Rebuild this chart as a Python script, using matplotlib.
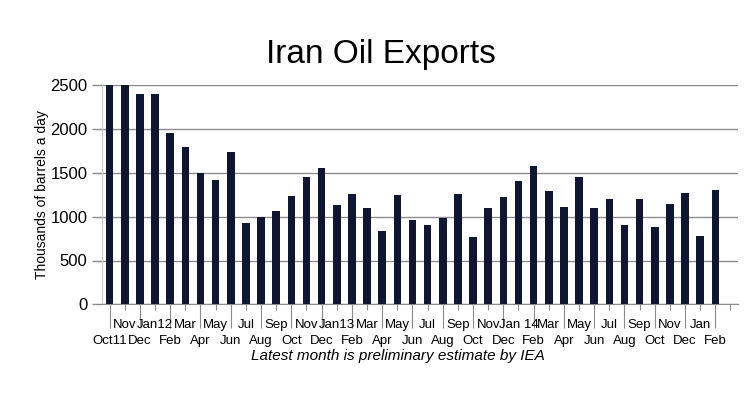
import matplotlib
matplotlib.use("Agg")
import matplotlib.pyplot as plt
import numpy as np

plt.rcParams['font.family'] = ['Liberation Sans', 'DejaVu Sans']

months = ["Oct11", "Nov", "Dec", "Jan12", "Feb", "Mar", "Apr", "May", "Jun", "Jul", "Aug", "Sep",
          "Oct", "Nov", "Dec", "Jan13", "Feb", "Mar", "Apr", "May", "Jun", "Jul", "Aug", "Sep",
          "Oct", "Nov", "Dec", "Jan 14", "Feb", "Mar", "Apr", "May", "Jun", "Jul", "Aug", "Sep",
          "Oct", "Nov", "Dec", "Jan", "Feb"]
exports = [2500, 2500, 2400, 2400, 1950, 1800, 1500, 1420, 1740, 930, 1000, 1070,
           1240, 1450, 1560, 1130, 1260, 1100, 835, 1245, 960, 900, 990, 1260,
           765, 1100, 1225, 1410, 1580, 1290, 1110, 1455, 1100, 1205, 905, 1200,
           885, 1140, 1270, 785, 1305]
yticks = [0, 500, 1000, 1500, 2000, 2500]

fig = plt.figure(figsize=(7.5, 3.98), dpi=100)
ax = fig.add_axes([102/750, 1-304.3/398, (738-102)/750, (304.3-85.3)/398])

x = np.arange(len(exports))
ax.bar(x, exports, width=0.5, color='#0e1631', zorder=3)

ax.set_xlim(-0.5, len(exports) + 0.5)
ax.set_ylim(0, 2500)
ax.set_yticks(yticks)
ax.set_yticklabels([str(v) for v in yticks], fontsize=12)
ax.yaxis.grid(True, color='#8c8c8c', linewidth=1.0, zorder=0)
ax.tick_params(axis='y', length=7, color='#8c8c8c', pad=3.5, width=1.0)

all_pos = np.arange(len(exports) + 1)
labels_all = months + [""]
even = all_pos[::2]
odd = all_pos[1::2]
ax.set_xticks(even)
ax.set_xticklabels([labels_all[i] for i in even], fontsize=9.5)
ax.set_xticks(odd, minor=True)
ax.set_xticklabels([labels_all[i] for i in odd], minor=True, fontsize=9.5)
ax.tick_params(axis='x', which='major', length=17, pad=5, color='#8c8c8c', width=0.8)
ax.tick_params(axis='x', which='minor', length=4, pad=6.5, color='#8c8c8c', width=0.8)

for s in ['top', 'right']:
    ax.spines[s].set_visible(False)
ax.spines['left'].set_color('#c8c8c8')
ax.spines['bottom'].set_color('#8c8c8c')

ax.set_ylabel("Thousands of barrels a day", fontsize=10, labelpad=1)

fig.text(381/750, 1-63/398, "Iran Oil Exports", fontsize=24, ha='center', va='baseline')
fig.text(398/750, 1-360/398, "Latest month is preliminary estimate by IEA", fontsize=11,
         style='italic', ha='center', va='baseline')

fig.savefig("out.png", dpi=100, facecolor='white')
